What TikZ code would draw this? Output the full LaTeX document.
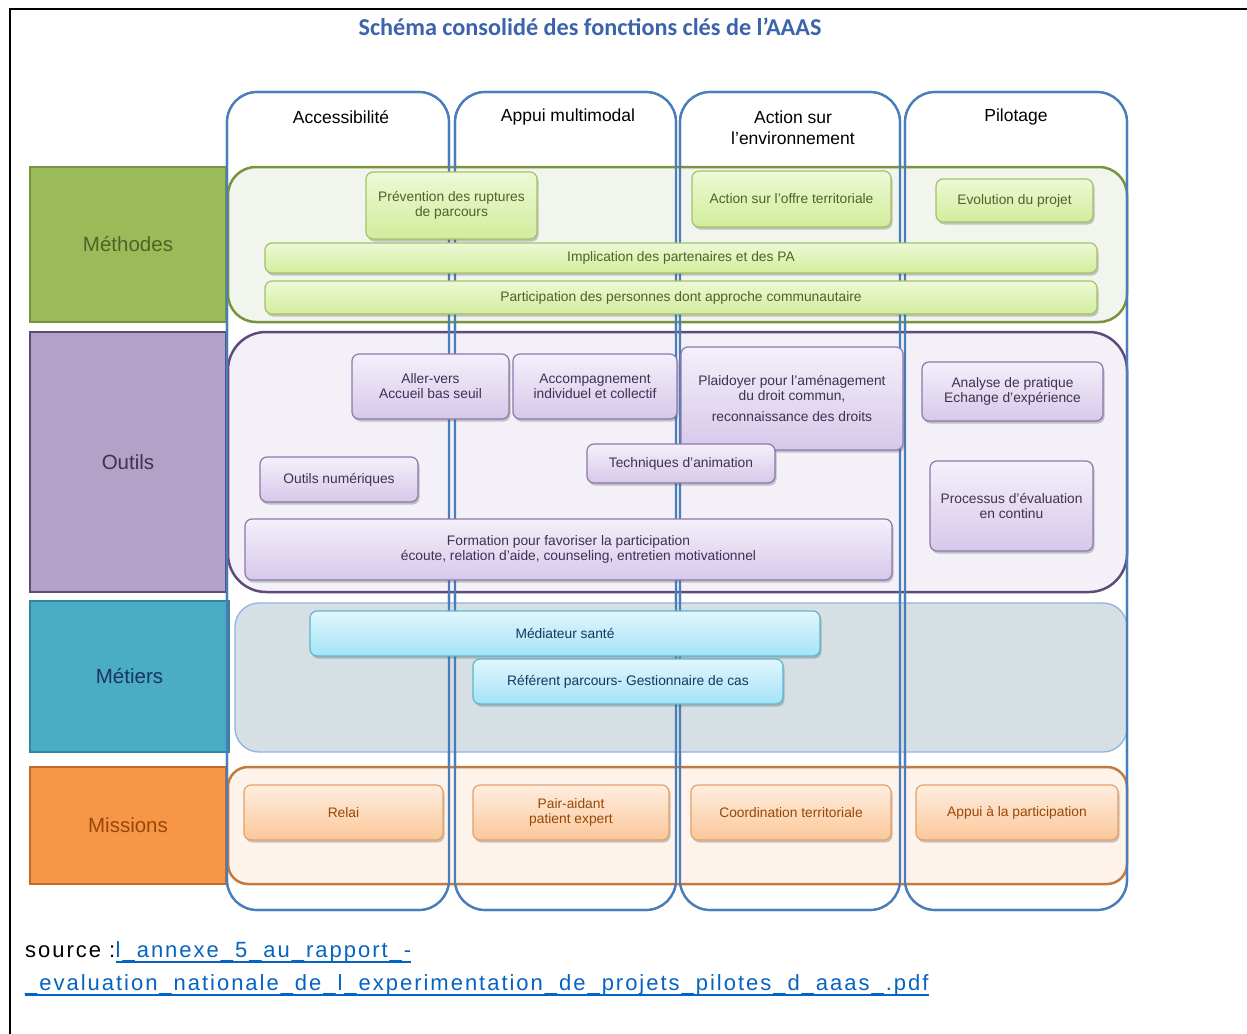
\documentclass[tikz,border=0pt]{standalone}
\usepackage{fontspec}
\setmainfont{Liberation Sans}
\newfontfamily\titlefont{Carlito}
\newfontfamily\srcfont[LetterSpace=9]{Liberation Sans}
\usetikzlibrary{shadows}
\definecolor{colblue}{HTML}{4A7EBB}
\definecolor{titleblue}{HTML}{3B64AA}
\definecolor{linkblue}{HTML}{0563C1}
% methodes
\definecolor{mfill}{HTML}{9BBB59}\definecolor{mdraw}{HTML}{77933C}\definecolor{mtext}{HTML}{4F6228}
\definecolor{mband}{HTML}{F2F4EE}\definecolor{mtop}{HTML}{EEF9D6}\definecolor{mbot}{HTML}{D2EC9C}\definecolor{mbord}{HTML}{A3C26A}
% outils
\definecolor{ofill}{HTML}{B3A2C7}\definecolor{odraw}{HTML}{604A7B}\definecolor{otext}{HTML}{3F3151}
\definecolor{oband}{HTML}{F3F1F7}\definecolor{otop}{HTML}{F4F0FA}\definecolor{obot}{HTML}{D6C8EA}\definecolor{obord}{HTML}{8C78AA}
% metiers
\definecolor{tfill}{HTML}{4BACC6}\definecolor{tdraw}{HTML}{31859C}\definecolor{ttext}{HTML}{17375E}
\definecolor{tband}{HTML}{D6DFE3}\definecolor{tbandd}{HTML}{8EB4E3}\definecolor{ttop}{HTML}{E2F6FD}\definecolor{tbot}{HTML}{A3E3F8}\definecolor{tbord}{HTML}{5BB6D0}
% missions
\definecolor{sfill}{HTML}{F79646}\definecolor{sdraw}{HTML}{C0692A}\definecolor{stext}{HTML}{974806}
\definecolor{sband}{HTML}{FDF3EA}\definecolor{sbandd}{HTML}{C27A3E}\definecolor{stop}{HTML}{FEEEDF}\definecolor{sbot}{HTML}{FBC79A}\definecolor{sbord}{HTML}{E4A069}
\tikzset{
  column/.style={draw=colblue, line width=2.2pt, rounded corners=30pt},
  collabel/.style={font=\fontsize{17.5}{21}\selectfont, align=center, text=black},
  rowhead/.style={rectangle, line width=2.5pt, font=\fontsize{20.5}{24}\selectfont, inner sep=0pt},
  band/.style={line width=2.5pt, rounded corners=28pt},
  basebox/.style={rectangle, rounded corners=7pt, inner sep=2pt, align=center,
    font=\fontsize{13.8}{15}\selectfont,
    drop shadow={shadow xshift=1.5pt, shadow yshift=-2.5pt, opacity=0.3, fill=black!70}},
  gbox/.style={basebox, draw=mbord, line width=1.2pt, top color=mtop, bottom color=mbot, text=mtext},
  pbox/.style={basebox, draw=obord, line width=1.2pt, top color=otop, bottom color=obot, text=otext},
  cbox/.style={basebox, draw=tbord, line width=1.2pt, top color=ttop, bottom color=tbot, text=ttext},
  obox/.style={basebox, draw=sbord, line width=1.2pt, top color=stop, bottom color=sbot, text=stext},
  srctext/.style={font=\srcfont\fontsize{22}{26}\selectfont, inner sep=0pt}
}
\begin{document}
\begin{tikzpicture}[x=1pt, y=-1pt]
\useasboundingbox (0,0) rectangle (1247,1033);
\fill[white] (0,0) rectangle (1247,1033);
\draw[line width=2.6pt] (10,1034) -- (10,9) -- (1248,9);

% title
\node[font=\titlefont\bfseries\fontsize{24.2}{28}\selectfont, text=titleblue] (title) at (590,27) {Schéma consolidé des fonctions clés de l’AAAS};

% columns
\draw[column, fill=white] (227,92) rectangle (449,910);
\draw[column, fill=white] (455,92) rectangle (676,910);
\draw[column, fill=white] (680,92) rectangle (900,910);
\draw[column, fill=white] (905,92) rectangle (1127,910);

\node[collabel] (c1) at (341,117) {Accessibilité};
\node[collabel] (c2) at (568,117) {Appui multimodal};
\node[collabel] (c3) at (793,127.5) {Action sur\\l’environnement};
\node[collabel] (c4) at (1016,117) {Pilotage};

% row headers
\node[rowhead, draw=mdraw, fill=mfill, text=mtext, minimum width=196pt, minimum height=155pt] (rmeth) at (128,244.5) {Méthodes};
\node[rowhead, draw=odraw, fill=ofill, text=otext, minimum width=196pt, minimum height=260pt] (rout) at (128,462) {Outils};
\node[rowhead, draw=tdraw, fill=tfill, text=ttext, minimum width=199pt, minimum height=151pt] (rmet) at (129.5,676.5) {Métiers};
\node[rowhead, draw=sdraw, fill=sfill, text=stext, minimum width=196pt, minimum height=117pt] (rmis) at (128,825.5) {Missions};

% bands
\draw[band, draw=mdraw, fill=mband] (228,167) rectangle (1127,322);
\draw[band, draw=odraw, fill=oband, rounded corners=38pt] (228,332) rectangle (1127,592);
\draw[band, draw=tbandd, fill=tband, line width=1.3pt, rounded corners=24pt] (235,603) rectangle (1127,752);
\draw[band, draw=sbandd, fill=sband, rounded corners=20pt] (228,767) rectangle (1127,884);

% column lines over bands
\draw[column] (227,92) rectangle (449,910);
\draw[column] (455,92) rectangle (676,910);
\draw[column] (680,92) rectangle (900,910);
\draw[column] (905,92) rectangle (1127,910);

% Methodes boxes
\node[gbox, minimum width=171pt, minimum height=67pt] (prev) at (451.5,205.5) {Prévention des ruptures\\de parcours};
\node[gbox, minimum width=199pt, minimum height=56pt] (offre) at (791.5,199) {Action sur l’offre territoriale};
\node[gbox, minimum width=157pt, minimum height=43pt] (evol) at (1014.5,200.5) {Evolution du projet};
\node[gbox, minimum width=832pt, minimum height=30pt] (impl) at (681,258) {Implication des partenaires et des PA};
\node[gbox, minimum width=832pt, minimum height=33pt] (part) at (681,297.5) {Participation des personnes dont approche communautaire};

% Outils boxes
\node[pbox, minimum width=157pt, minimum height=65pt] (aller) at (430.5,386.5) {Aller-vers\\Accueil bas seuil};
\node[pbox, minimum width=164pt, minimum height=65pt] (accomp) at (595,386.5) {Accompagnement\\individuel et collectif};
\node[pbox, minimum width=222pt, minimum height=103pt] (plaid) at (792,398.5) {Plaidoyer pour l’aménagement\\du droit commun,\\[6pt]reconnaissance des droits};
\node[pbox, minimum width=181pt, minimum height=59pt] (analyse) at (1012.5,391.5) {Analyse de pratique\\Echange d’expérience};
\node[pbox, minimum width=188pt, minimum height=39pt] (tech) at (681,463.5) {Techniques d’animation};
\node[pbox, minimum width=158pt, minimum height=45pt] (outnum) at (339,479.5) {Outils numériques};
\node[pbox, minimum width=163pt, minimum height=90pt] (proc) at (1011.5,506) {Processus d’évaluation\\en continu};
\node[pbox, minimum width=647pt, minimum height=61pt] (form) at (568.5,549.5) {Formation pour favoriser la participation\\\hspace*{20pt}écoute, relation d’aide, counseling, entretien motivationnel};

% Metiers boxes
\node[cbox, minimum width=510pt, minimum height=45pt] (med) at (565,633.5) {Médiateur santé};
\node[cbox, minimum width=310pt, minimum height=45pt] (refp) at (628,681.5) {Référent parcours- Gestionnaire de cas};

% Missions boxes
\node[obox, minimum width=199pt, minimum height=55pt] (relai) at (343.5,812.5) {Relai};
\node[obox, minimum width=196pt, minimum height=55pt] (pair) at (571,812.5) {Pair-aidant\\patient expert};
\node[obox, minimum width=200pt, minimum height=55pt] (coord) at (791,812.5) {Coordination territoriale};
\node[obox, minimum width=202pt, minimum height=55pt] (appui) at (1017,812.5) {Appui à la participation};

% source
\node[srctext, anchor=base west] (src) at (25,957) {source :};
\node[srctext, anchor=base west, text=linkblue] (lnk1) at (src.base east) {l\_annexe\_5\_au\_rapport\_-};
\node[srctext, anchor=base west, text=linkblue] (lnk2) at (25,990) {\_evaluation\_nationale\_de\_l\_experimentation\_de\_projets\_pilotes\_d\_aaas\_.pdf};
\draw[linkblue, line width=1.5pt] ([yshift=-5pt]lnk1.base west) -- ([yshift=-5pt]lnk1.base east);
\draw[linkblue, line width=1.5pt] ([yshift=-5pt]lnk2.base west) -- ([yshift=-5pt]lnk2.base east);
\end{tikzpicture}
\end{document}
